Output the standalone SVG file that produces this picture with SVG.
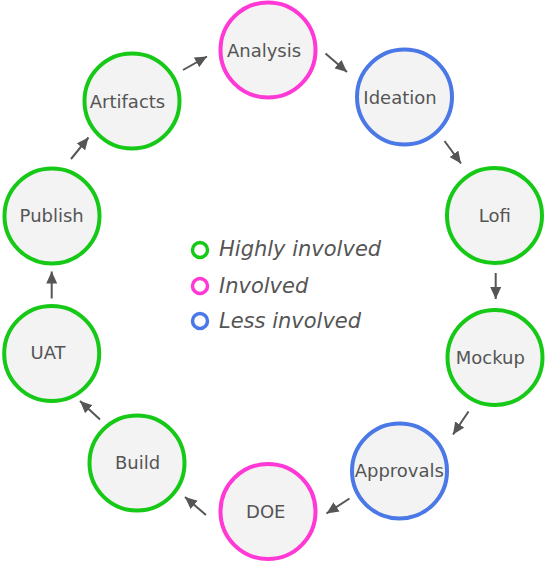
<svg xmlns="http://www.w3.org/2000/svg" width="546" height="562" viewBox="0 0 546 562">
<defs>
<marker id="arr" markerUnits="userSpaceOnUse" markerWidth="12" markerHeight="11" viewBox="0 0 12 11" refX="12" refY="5.5" orient="auto">
<path d="M0,0 L12,5.5 L0,11 Z" fill="#555555"/>
</marker>
</defs>
<style>
.node circle{fill:#f3f3f3;stroke-width:4}
.hi{stroke:#17c917}
.mid{stroke:#ff38d6}
.lo{stroke:#4a78e6}
.node text{font-family:"DejaVu Sans",sans-serif;font-size:18px;fill:#555555;text-anchor:middle}
.edges line{stroke:#555555;stroke-width:2;marker-end:url(#arr)}
.legend circle{fill:none;stroke-width:3.5}
.legend text{font-family:"DejaVu Sans",sans-serif;font-style:italic;font-size:21px;fill:#555555}
</style>
<rect width="546" height="562" fill="#ffffff"/>
<g id="connectors" class="edges">
<line x1="183" y1="70" x2="207" y2="56.5"/>
<line x1="325.5" y1="53.5" x2="347" y2="72"/>
<line x1="444.5" y1="141" x2="461" y2="163.5"/>
<line x1="495.7" y1="273" x2="495.7" y2="299"/>
<line x1="468.5" y1="411.5" x2="453" y2="434.5"/>
<line x1="349.5" y1="498.5" x2="326.5" y2="513.5"/>
<line x1="206" y1="515" x2="185" y2="497"/>
<line x1="100" y1="419.5" x2="80" y2="401"/>
<line x1="51.7" y1="298.5" x2="51.7" y2="271.5"/>
<line x1="71" y1="159" x2="88.5" y2="137.5"/>
</g>
<g id="analysis" class="node"><circle class="mid" cx="268" cy="50" r="47.5"/><text x="264" y="57">Analysis</text></g>
<g id="ideation" class="node"><circle class="lo" cx="404.5" cy="97" r="47.5"/><text x="400" y="104">Ideation</text></g>
<g id="lofi" class="node"><circle class="hi" cx="494.5" cy="215.5" r="47.5"/><text x="494.8" y="222.3">Lofi</text></g>
<g id="mockup" class="node"><circle class="hi" cx="495" cy="357.5" r="47.5"/><text x="490.3" y="364">Mockup</text></g>
<g id="approvals" class="node"><circle class="lo" cx="399.5" cy="471" r="47.5"/><text x="399.3" y="477.3">Approvals</text></g>
<g id="doe" class="node"><circle class="mid" cx="268" cy="511.5" r="47.5"/><text x="265.8" y="518.3">DOE</text></g>
<g id="build" class="node"><circle class="hi" cx="137" cy="463" r="47.5"/><text x="137.5" y="469.3">Build</text></g>
<g id="uat" class="node"><circle class="hi" cx="51.7" cy="353.5" r="47.5"/><text x="48" y="359.3">UAT</text></g>
<g id="publish" class="node"><circle class="hi" cx="52" cy="216" r="47.5"/><text x="51.7" y="221.7">Publish</text></g>
<g id="artifacts" class="node"><circle class="hi" cx="132" cy="101" r="47.5"/><text x="127.5" y="107.7">Artifacts</text></g>
<g id="legend" class="legend">
<circle class="hi" cx="200" cy="250" r="7.5"/><text x="219" y="256">Highly involved</text>
<circle class="mid" cx="200" cy="286" r="7.5"/><text x="219" y="292.5">Involved</text>
<circle class="lo" cx="200" cy="321" r="7.5"/><text x="219" y="327.5">Less involved</text>
</g>
</svg>
